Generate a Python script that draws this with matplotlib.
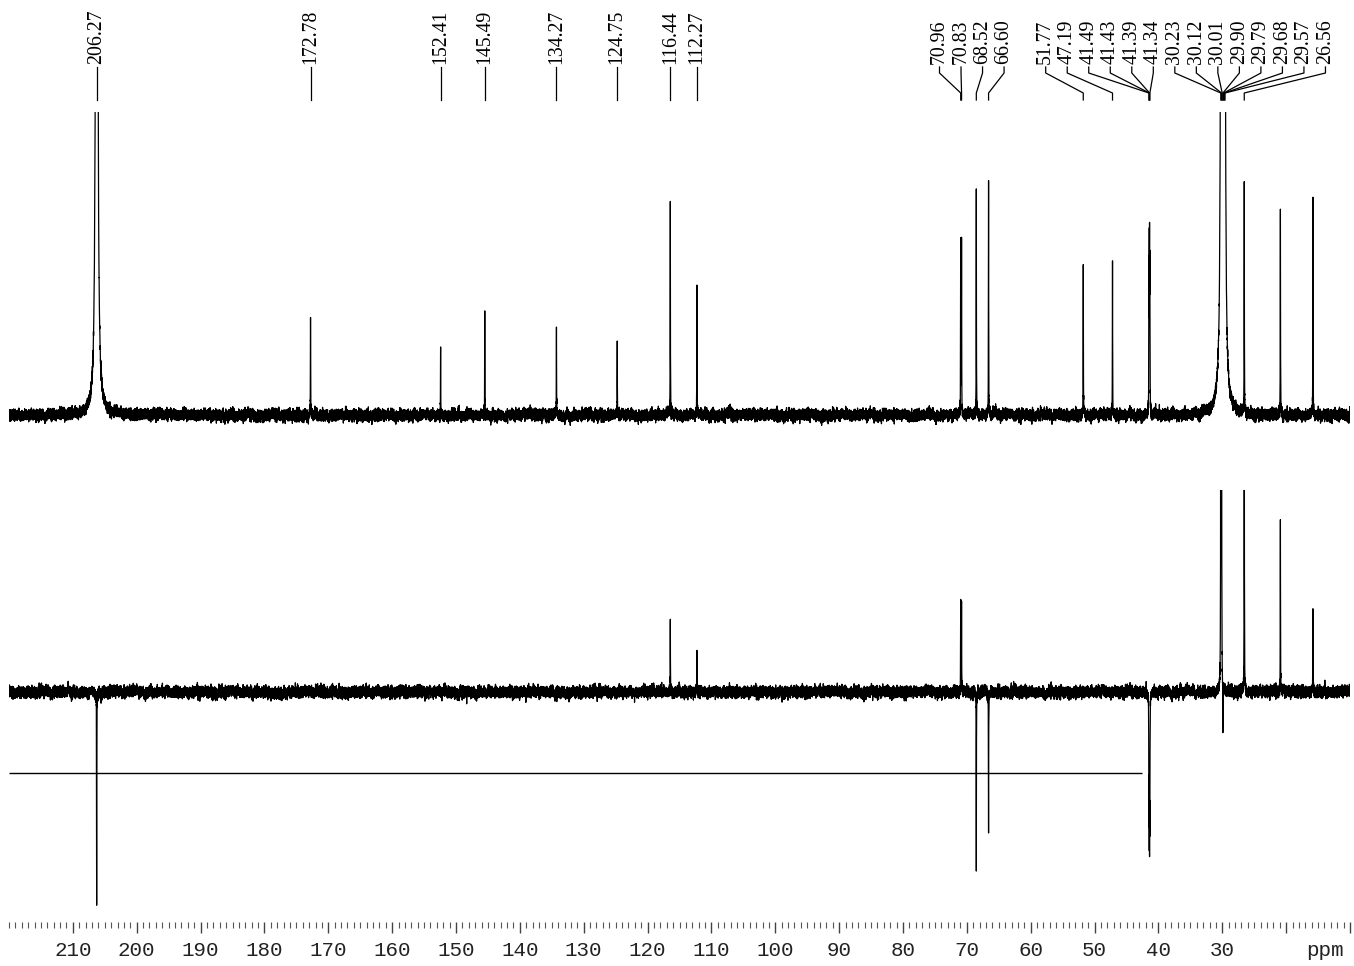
import numpy as np
import matplotlib.pyplot as plt
from matplotlib.ticker import MultipleLocator, FixedLocator

# chemical shifts printed above the 13C spectrum
label_ppm = [206.27, 172.78, 152.41, 145.49, 134.27, 124.75, 116.44, 112.27,
             70.96, 70.83, 68.52, 66.60,
             51.77, 47.19, 41.49, 41.43, 41.39, 41.34,
             30.23, 30.12, 30.01, 29.90, 29.79, 29.68, 29.57, 26.56]

# 13C spectrum (top): sharp lines, heights in arbitrary units
c13_ppm = [172.78, 152.41, 145.49, 134.27, 124.75, 116.44, 112.27,
           70.96, 70.83, 68.52, 66.60, 51.77, 47.19,
           41.49, 41.43, 41.39, 41.34, 26.56, 20.90, 15.80]
c13_height = [96, 70, 107, 89, 69, 217, 132,
              179, 179, 232, 232, 150, 152,
              137, 137, 137, 137, 234, 208, 212]

# acetone-d6 solvent lines (off scale)
solvent_ppm = [206.27, 30.23, 30.12, 30.01, 29.90, 29.79, 29.68, 29.57]
solvent_height = [2500, 300, 900, 1800, 2100, 1800, 900, 300]
solvent_width = [0.09, 0.06, 0.06, 0.06, 0.06, 0.06, 0.06, 0.06]

# DEPT-135 spectrum (bottom): CH/CH3 up, CH2 down
dept_ppm = [206.32, 206.27, 116.44, 112.27, 70.96, 70.83, 68.52, 66.60,
            41.49, 41.43, 41.39, 41.34, 30.23, 30.12, 29.90, 26.56, 20.90, 15.80]
dept_height = [14, -218, 75, 41, 87, 87, -179, -141,
               -120, -120, -120, -120, 700, 700, -46, 400, 171, 87]

# stray cursor line in the lower trace
cursor_level = -81
cursor_end = 42.55

major_ticks = list(range(10, 211, 10))
tick_labels = ["" if t < 30 else str(t) for t in major_ticks]


def lorentz(x, pos, h, w):
    return h * w ** 2 / ((x - pos) ** 2 + w ** 2)


def spread_labels(ppms, gap):
    # push crowded labels apart, each crowd centred on its peaks
    ppms = sorted(ppms, reverse=True)
    groups = [[p] for p in ppms]
    merged = True
    while merged:
        merged = False
        for i in range(len(groups) - 1):
            a, b = groups[i], groups[i + 1]
            a_last = np.mean(a) - gap * (len(a) - 1) / 2
            b_first = np.mean(b) + gap * (len(b) - 1) / 2
            if a_last - b_first < gap:
                groups[i] = a + b
                del groups[i + 1]
                merged = True
                break
    pos = []
    for g in groups:
        c = np.mean(g)
        pos += list(c + gap * ((len(g) - 1) / 2 - np.arange(len(g))))
    return ppms, pos


x = np.arange(10.0, 220.0001, 0.005)

# baseline noise texture (fixed seed)
rng = np.random.default_rng(3)
def noise():
    white = rng.normal(0, 2.5, x.size)
    slow = np.convolve(rng.normal(0, 1.0, x.size), np.ones(60) / np.sqrt(60), mode="same")
    return white + slow

top = noise()
for p, h in zip(c13_ppm, c13_height):
    top += lorentz(x, p, h, 0.02)
for p, h, w in zip(solvent_ppm, solvent_height, solvent_width):
    top += lorentz(x, p, h, w)

bottom = noise()
for p, h in zip(dept_ppm, dept_height):
    bottom += lorentz(x, p, h, 0.02)

W, H = 1354, 966
fig = plt.figure(figsize=(W / 100, H / 100), dpi=100)
left, width = 9 / W, (1350 - 9) / W

ax_lab = fig.add_axes([left, 1 - 112 / H, width, 112 / H])
ax_top = fig.add_axes([left, 1 - 440 / H, width, 328 / H])
ax_bot = fig.add_axes([left, 1 - 922 / H, width, 432 / H])

for ax in (ax_lab, ax_top, ax_bot):
    ax.set_xlim(220, 10)
    for s in ax.spines.values():
        s.set_visible(False)
    ax.set_yticks([])

ax_lab.set_xticks([])
ax_top.set_xticks([])
ax_lab.set_ylim(112, 0)
ax_top.set_ylim(-25, 303)
ax_bot.set_ylim(-230, 202)

ax_top.plot(x, top, color="black", lw=0.9)
ax_bot.plot(x, bottom, color="black", lw=0.9)
ax_bot.hlines(cursor_level, 220, cursor_end, color="black", lw=1.0)

# peak labels with leader lines
peaks, pos = spread_labels(label_ppm, 3.37)
for p, lx in zip(peaks, pos):
    ax_lab.text(lx, 64, f"{p:.2f}", rotation=90, ha="center", va="bottom",
                family="Liberation Serif", fontsize=14.3)
    ax_lab.plot([lx, lx, p, p], [67, 73, 93, 100], color="black", lw=0.9)

# ppm axis
ax_bot.xaxis.set_major_locator(FixedLocator(major_ticks))
ax_bot.set_xticklabels(tick_labels)
ax_bot.xaxis.set_minor_locator(MultipleLocator(1))
ax_bot.tick_params(axis="x", which="major", direction="out", length=8, width=1.0,
                   pad=6, labelsize=15, labelcolor="#222222", color="#444444")
ax_bot.tick_params(axis="x", which="minor", direction="out", length=4, width=0.8,
                   color="#555555")
for t in ax_bot.get_xticklabels():
    t.set_family("Liberation Mono")
ax_bot.annotate("ppm", xy=(13.9, 0), xycoords=("data", "axes fraction"),
                xytext=(0, -14), textcoords="offset points", ha="center", va="top",
                family="Liberation Mono", fontsize=15, color="#222222")

fig.savefig("out.png", dpi=100)
